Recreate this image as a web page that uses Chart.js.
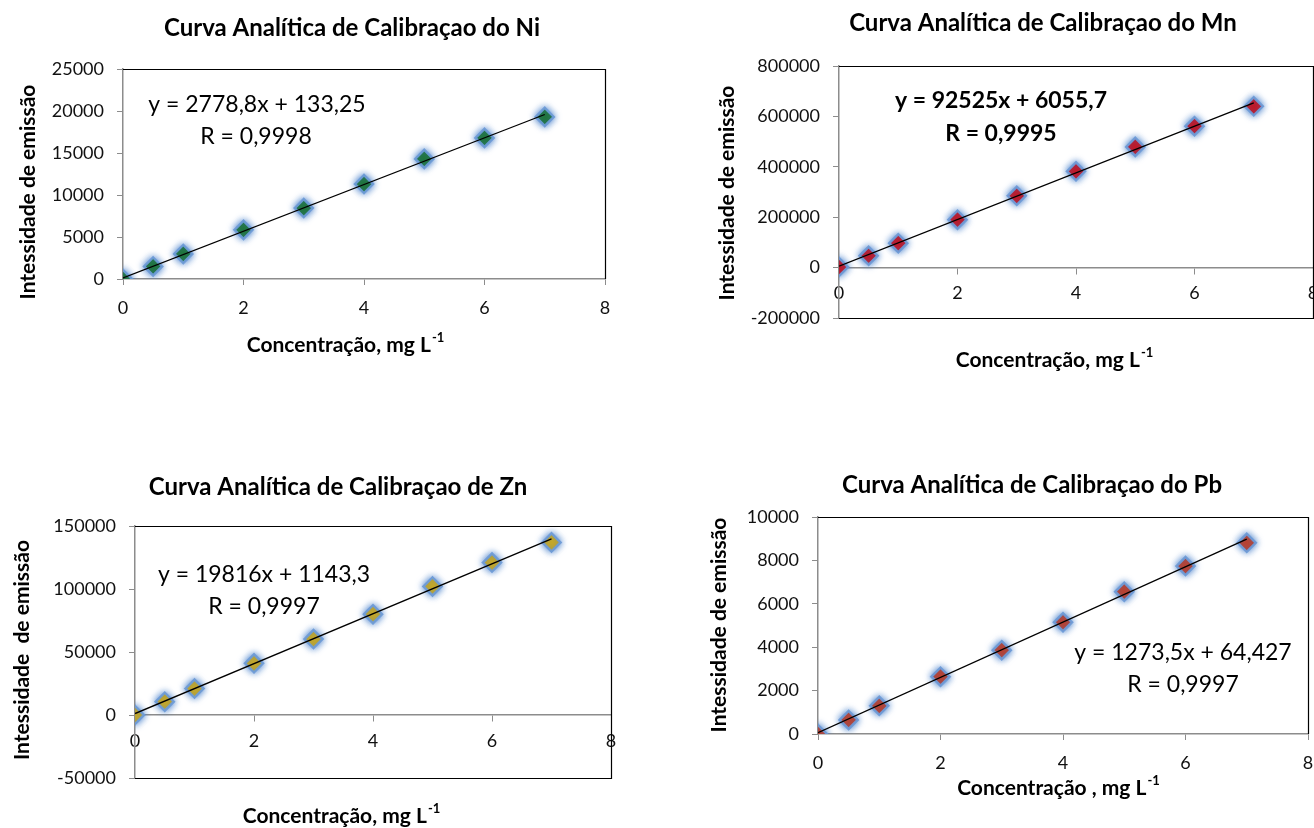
<!DOCTYPE html>
<html>
<head>
<meta charset="utf-8">
<script src="https://cdn.jsdelivr.net/npm/chart.js@4.4.0/dist/chart.umd.min.js"></script>
<style>
  body { margin: 0; background: #fff; width: 1314px; height: 828px; position: relative; overflow: hidden; }
  canvas { position: absolute; }
</style>
</head>
<body>
<canvas id="niChart"></canvas>
<canvas id="mnChart"></canvas>
<canvas id="znChart"></canvas>
<canvas id="pbChart"></canvas>
<script>
// concentrations (mg/L) shared by all four curves
const concX = [0, 0.5, 1, 2, 3, 4, 5, 6, 7];

// emission intensities
const niY = [0, 1500, 2980, 5850, 8450, 11300, 14300, 16800, 19300];
const mnY = [2000, 47000, 97000, 190000, 285000, 382000, 479000, 561000, 640000];
const znY = [0, 10600, 21000, 41000, 60300, 80000, 102000, 121000, 137000];
const pbY = [0, 650, 1300, 2640, 3860, 5150, 6560, 7740, 8810];

// trendline end points (x = 0 and x = 7)
const trendX = [0, 7];
const niTrend = [133, 19585];
const mnTrend = [6056, 653731];
const znTrend = [1143, 139855];
const pbTrend = [64, 8979];

// y axis ranges: [min, max, step]
const niTicks = [0, 25000, 5000];
const mnTicks = [-200000, 800000, 200000];
const znTicks = [-50000, 150000, 50000];
const pbTicks = [0, 10000, 2000];

const titles = [
  "Curva Analítica de Calibraçao do Ni",
  "Curva Analítica de Calibraçao do Mn",
  "Curva Analítica de Calibraçao de Zn",
  "Curva Analítica de Calibraçao do Pb",
];
const niEq = ["y = 2778,8x + 133,25", "R = 0,9998"];
const mnEq = ["y = 92525x + 6055,7", "R = 0,9995"];
const znEq = ["y = 19816x + 1143,3", "R = 0,9997"];
const pbEq = ["y = 1273,5x + 64,427", "R = 0,9997"];

Chart.defaults.font.family = "Lato";
Chart.defaults.color = "#111";

const FONT = "Lato";
const AXIS_GREY = "#8c8c8c";
const TITLE_SIZE = 24;
const EQ_SIZE = 23;
const AXT_SIZE = 21;

// draws titles, axis titles and equations at fixed spots (page coords)
const panelText = {
  id: "panelText",
  afterDraw(chart, args, opts) {
    const ctx = chart.ctx;
    opts.items.forEach((it) => {
      ctx.save();
      ctx.translate(it.x - opts.ox, it.y - opts.oy);
      if (it.rot) ctx.rotate(-Math.PI / 2);
      const weight = it.bold ? "bold " : "";
      const mainFont = weight + it.size + "px " + FONT;
      const supFont = weight + Math.round(it.size * 0.62) + "px " + FONT;
      ctx.fillStyle = "#000";
      ctx.textBaseline = "middle";
      ctx.font = mainFont;
      const w1 = ctx.measureText(it.text).width;
      let w2 = 0;
      if (it.sup) {
        ctx.font = supFont;
        w2 = ctx.measureText(it.sup).width;
      }
      const start = -(w1 + w2) / 2;
      ctx.textAlign = "left";
      ctx.font = mainFont;
      ctx.fillText(it.text, start, 0);
      if (it.sup) {
        ctx.font = supFont;
        ctx.fillText(it.sup, start + w1 + 1, -it.size * 0.35);
      }
      ctx.restore();
    });
  },
};

// black frame on top/right (and bottom when the x axis sits at zero)
const plotFrame = {
  id: "plotFrame",
  afterDraw(chart, args, opts) {
    const { left, right, top, bottom } = chart.chartArea;
    const ctx = chart.ctx;
    ctx.save();
    ctx.strokeStyle = "#000";
    ctx.lineWidth = 1.2;
    ctx.beginPath();
    ctx.moveTo(left, top + 0.5);
    ctx.lineTo(right + 0.5, top + 0.5);
    ctx.lineTo(right + 0.5, opts.bottomBorder ? bottom + 0.5 : bottom);
    if (opts.bottomBorder) ctx.lineTo(left, bottom + 0.5);
    ctx.stroke();
    ctx.restore();
  },
};

// soft blue glow around the diamond markers
const markerGlow = {
  id: "markerGlow",
  beforeDatasetDraw(chart, args) {
    if (args.index !== 1) return;
    const ctx = chart.ctx;
    ctx.save();
    ctx.shadowColor = "rgba(60, 120, 200, 0.95)";
    ctx.shadowBlur = 7;
  },
  afterDatasetDraw(chart, args) {
    if (args.index !== 1) return;
    chart.ctx.restore();
  },
};

function makePanel(p) {
  const canvas = document.getElementById(p.id);
  const [cx, cy, cw, ch] = p.box;
  const [L, T, R, B] = p.area;
  canvas.width = cw;
  canvas.height = ch;
  canvas.style.left = cx + "px";
  canvas.style.top = cy + "px";

  const yW = 110;
  const xH = p.xAtZero ? 0 : 40;

  const points = concX.map((x, i) => ({ x: x, y: p.values[i] }));
  const trend = trendX.map((x, i) => ({ x: x, y: p.trend[i] }));

  new Chart(canvas, {
    type: "scatter",
    data: {
      datasets: [
        {
          data: trend,
          showLine: true,
          borderColor: "#000",
          borderWidth: 1.3,
          pointRadius: 0,
        },
        {
          data: points,
          pointStyle: "rectRot",
          pointRadius: 9,
          backgroundColor: p.color,
          borderColor: "rgba(110, 155, 215, 0.95)",
          borderWidth: 2.5,
        },
      ],
    },
    options: {
      responsive: false,
      animation: false,
      layout: {
        padding: {
          left: L - cx - yW,
          top: T - cy,
          right: cx + cw - R,
          bottom: cy + ch - B - xH,
        },
      },
      scales: {
        x: {
          type: "linear",
          position: p.xAtZero ? { y: 0 } : "bottom",
          min: 0,
          max: 8,
          ticks: { stepSize: 2, padding: p.xPad, font: { size: 18 }, color: "#111" },
          grid: { drawOnChartArea: false, tickLength: 6, color: AXIS_GREY },
          border: { color: AXIS_GREY, width: 1.5 },
          afterFit(scale) {
            if (!p.xAtZero) scale.height = xH;
            scale.paddingLeft = 0;
            scale.paddingRight = 0;
          },
        },
        y: {
          min: p.ticks[0],
          max: p.ticks[1],
          ticks: {
            stepSize: p.ticks[2],
            padding: 13,
            font: { size: 18 },
            color: "#111",
            callback: (v) => String(v),
          },
          grid: { drawOnChartArea: false, tickLength: 6, color: AXIS_GREY },
          border: { color: AXIS_GREY, width: 1.5 },
          afterFit(scale) {
            scale.width = yW;
            scale.paddingTop = 0;
            scale.paddingBottom = 0;
          },
        },
      },
      plugins: {
        legend: { display: false },
        tooltip: { enabled: false },
        plotFrame: { bottomBorder: p.xAtZero },
        panelText: { ox: cx, oy: cy, items: p.texts },
      },
    },
    plugins: [markerGlow, plotFrame, panelText],
  });
}

const xTitle = "Concentração, mg L";

makePanel({
  id: "niChart", box: [0, 0, 657, 414], area: [123, 69, 605, 279],
  values: niY, trend: niTrend, ticks: niTicks, color: "#1a741a", xAtZero: false, xPad: 12,
  texts: [
    { text: titles[0], x: 352, y: 28, size: TITLE_SIZE, bold: true },
    { text: niEq[0], x: 257, y: 105, size: EQ_SIZE },
    { text: niEq[1], x: 256, y: 137, size: EQ_SIZE },
    { text: xTitle, sup: "-1", x: 345, y: 345, size: AXT_SIZE, bold: true },
    { text: "Intessidade de emissão", x: 28, y: 192, size: AXT_SIZE, bold: true, rot: true },
  ],
});

// canvas runs past the page edge so the clipped "8" matches the original
makePanel({
  id: "mnChart", box: [657, 0, 680, 414], area: [839, 66, 1313, 318],
  values: mnY, trend: mnTrend, ticks: mnTicks, color: "#e00000", xAtZero: true, xPad: 9,
  texts: [
    { text: titles[1], x: 1043, y: 23, size: TITLE_SIZE, bold: true },
    { text: mnEq[0], x: 1001, y: 101, size: EQ_SIZE, bold: true },
    { text: mnEq[1], x: 1001, y: 134, size: EQ_SIZE, bold: true },
    { text: xTitle, sup: "-1", x: 1054, y: 360, size: AXT_SIZE, bold: true },
    { text: "Intessidade de emissão", x: 727, y: 193, size: AXT_SIZE, bold: true, rot: true },
  ],
});

makePanel({
  id: "znChart", box: [0, 414, 657, 414], area: [135, 526, 611, 778],
  values: znY, trend: znTrend, ticks: znTicks, color: "#e8b400", xAtZero: true, xPad: 9,
  texts: [
    { text: titles[2], x: 338, y: 487, size: TITLE_SIZE, bold: true },
    { text: znEq[0], x: 264, y: 575, size: EQ_SIZE },
    { text: znEq[1], x: 264, y: 607, size: EQ_SIZE },
    { text: xTitle, sup: "-1", x: 341, y: 816, size: AXT_SIZE, bold: true },
    { text: "Intessidade  de emissão", x: 22, y: 650, size: AXT_SIZE, bold: true, rot: true },
  ],
});

makePanel({
  id: "pbChart", box: [657, 414, 680, 414], area: [818, 517, 1308, 734],
  values: pbY, trend: pbTrend, ticks: pbTicks, color: "#d8340c", xAtZero: false, xPad: 12,
  texts: [
    { text: titles[3], x: 1032, y: 485, size: TITLE_SIZE, bold: true },
    { text: pbEq[0], x: 1183, y: 653, size: EQ_SIZE },
    { text: pbEq[1], x: 1183, y: 685, size: EQ_SIZE },
    { text: "Concentração , mg L", sup: "-1", x: 1058, y: 788, size: AXT_SIZE, bold: true },
    { text: "Intessidade de emissão", x: 719, y: 625, size: AXT_SIZE, bold: true, rot: true },
  ],
});
</script>
</body>
</html>
